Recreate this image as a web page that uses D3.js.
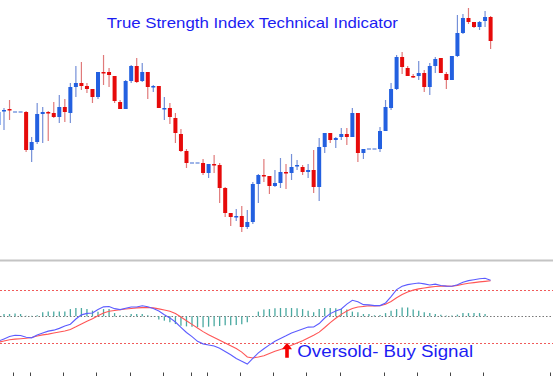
<!DOCTYPE html>
<html>
<head>
<meta charset="utf-8">
<script src="https://cdn.jsdelivr.net/npm/d3@7"></script>
<style>
  body { margin: 0; background: #fff; }
  svg { display: block; font-family: "Liberation Sans", Arial, sans-serif; }
</style>
</head>
<body>
<svg width="553" height="376"></svg>
<script>
// bar numbers start at -1, that one is cut by the left edge
const firstBar = -1;

const opens = [
    125, 139, 141, 138, 138, 138, 100, 108, 136, 138,
    137, 133, 143, 137, 163, 167, 164, 161, 153, 178,
    178, 174, 148, 141, 169, 184, 169, 178, 163, 164,
    141, 142, 132, 116, 99, 87, 87, 87, 77, 86,
    85, 62, 37, 33, 34, 23, 28, 66, 75, 74,
    64, 67, 78, 77, 84, 83, 78, 80, 63, 103,
    117, 110, 113, 116, 113, 137, 97, 101, 101, 101,
    119, 142, 161, 193, 182, 174, 174, 177, 163, 184,
    192, 176, 170, 194, 217, 232, 228, 223, 229, 233
];
const highs = [
    142, 142, 150, 138, 138, 139, 113, 147, 143, 139,
    148, 155, 151, 167, 184, 188, 167, 161, 178, 195,
    182, 174, 150, 170, 185, 192, 187, 178, 165, 164,
    153, 147, 137, 121, 101, 87, 87, 91, 86, 95,
    87, 63, 37, 41, 44, 40, 68, 76, 91, 74,
    80, 92, 86, 96, 90, 85, 86, 100, 112, 117,
    117, 113, 122, 122, 142, 137, 101, 101, 101, 123,
    150, 167, 195, 198, 184, 176, 189, 180, 187, 193,
    192, 178, 194, 235, 236, 242, 228, 229, 239, 234
];
const lows = [
    113, 120, 130, 138, 138, 98, 88, 106, 107, 109,
    132, 127, 128, 127, 153, 160, 157, 147, 151, 165,
    163, 147, 141, 141, 167, 167, 168, 151, 158, 142,
    130, 126, 107, 98, 82, 87, 87, 75, 72, 77,
    47, 33, 24, 29, 18, 21, 26, 47, 68, 56,
    63, 62, 61, 70, 80, 75, 72, 57, 49, 97,
    107, 102, 110, 105, 113, 88, 91, 101, 101, 98,
    119, 140, 160, 176, 174, 172, 170, 158, 155, 177,
    177, 161, 170, 193, 216, 226, 222, 220, 223, 201
];
const closes = [
    138, 140, 140, 138, 138, 100, 108, 136, 138, 137,
    133, 143, 138, 163, 167, 164, 161, 153, 178, 177,
    175, 149, 141, 169, 184, 168, 178, 163, 164, 142,
    142, 133, 117, 99, 87, 87, 87, 77, 86, 85,
    62, 37, 33, 34, 23, 28, 66, 75, 74, 64,
    67, 78, 77, 83, 85, 78, 80, 63, 103, 117,
    110, 112, 116, 113, 137, 97, 101, 101, 101, 119,
    143, 161, 193, 183, 174, 173, 177, 163, 184, 191,
    177, 170, 194, 217, 232, 228, 223, 228, 233, 209
];

// TSI line, its signal line and the histogram, one value per bar
const tsiValues = [
    -23.5, -21.4, -19.2, -17.9, -18.1, -19.9, -20.4, -17.7, -15.7, -14.0,
    -13.1, -11.4, -9.1, -7.5, -2.5, 1.4, 2.8, 3.2, 6.5, 9.0,
    9.4, 7.3, 6.4, 7.7, 8.9, 8.9, 10.0, 9.1, 7.5, 5.0,
    1.6, -1.5, -5.4, -10.4, -15.3, -19.2, -23.7, -26.1, -27.2, -28.2,
    -30.2, -33.3, -36.4, -40.0, -42.6, -45.3, -39.9, -34.6, -30.7, -27.1,
    -23.7, -21.1, -18.5, -15.7, -13.9, -12.0, -10.2, -10.1, -6.8, -1.6,
    2.6, 5.0, 7.0, 11.6, 15.3, 13.9, 11.1, 10.9, 10.2, 10.2,
    12.7, 18.8, 25.4, 28.5, 30.1, 31.0, 31.6, 30.8, 29.8, 30.6,
    29.2, 28.7, 28.5, 29.9, 32.3, 33.9, 34.7, 35.6, 36.2, 34.3
];
const signalValues = [
    -24.6, -23.4, -22.2, -21.6, -21.2, -20.8, -20.1, -18.7, -17.6, -16.9,
    -15.8, -14.9, -13.9, -12.4, -9.9, -7.2, -4.6, -2.3, 0.6, 3.2,
    4.9, 5.5, 6.2, 6.9, 7.4, 8.0, 8.3, 8.4, 8.0, 7.1,
    6.0, 4.8, 2.6, -0.6, -4.1, -7.6, -11.1, -14.5, -17.5, -20.0,
    -22.7, -25.3, -27.9, -30.6, -33.9, -38.5, -39.5, -38.6, -37.3, -35.3,
    -33.2, -31.4, -29.6, -27.4, -25.3, -23.1, -20.6, -18.0, -15.0, -10.6,
    -5.9, -1.8, 1.9, 5.0, 7.5, 8.8, 9.4, 10.0, 9.8, 10.0,
    11.5, 14.1, 17.6, 20.8, 23.2, 24.9, 26.1, 26.9, 27.7, 28.3,
    28.7, 28.7, 28.6, 29.4, 30.4, 31.4, 32.0, 32.7, 33.2, 33.8
];
const histValues = [
    1.9, 2.2, 2.2, 2.8, 2.2, 0.5, 0.5, 1.0, 3.8, 4.5,
    4.5, 4.5, 4.7, 6.9, 7.9, 7.9, 6.9, 5.4, 4.3, 6.9,
    6.9, 3.1, 1.0, 0.5, 2.2, 2.2, 2.2, 1.0, 0.3, -3.1,
    -4.1, -5.7, -7.3, -8.8, -9.5, -9.8, -10.2, -10.4, -9.8, -9.5,
    -9.2, -8.5, -8.5, -8.1, -7.6, -5.7, -0.5, 4.5, 6.4, 6.9,
    7.6, 7.9, 7.9, 7.9, 7.6, 6.9, 5.4, 3.8, 6.9, 7.9,
    7.9, 7.6, 6.9, 6.4, 4.5, 3.8, 2.2, 2.2, 1.0, 1.2,
    3.1, 5.4, 6.9, 8.5, 8.5, 6.4, 5.4, 3.8, 3.1, 2.2,
    1.6, 0.7, 0.7, 1.6, 3.1, 3.1, 3.1, 3.1, 2.2, 0
];

const tsiLevels = [25, 0, -25];
// time axis tick marks, in bar units
const timeTicks = [1.7, 4.7, 10.7, 16.7, 22.7, 28.7, 33.8, 36.7, 42.7, 48.7, 54.7, 60.7, 68.7, 74.7, 80.7, 86.7, 98.7];

const titleText = "True Strength Index Technical Indicator";
const noteText = "Oversold- Buy Signal";
const noteBar = 51;


const tsiChart = (function (svg) {
    const bars = opens.map(function (o, i) {
        return {
            bar: firstBar + i,
            open: o,
            high: highs[i],
            low: lows[i],
            close: closes[i],
            tsi: tsiValues[i],
            signal: signalValues[i],
            hist: histValues[i]
        };
    });

    const x = d3.scaleLinear().domain([0, 88]).range([4, 490.6]);
    const yPrice = d3.scaleLinear().domain([0, 240]).range([250, 10]);
    const yTsi = d3.scaleLinear().domain([-25, 25]).range([342.7, 290]);

    // title
    svg.append("text")
        .attr("transform", "translate(106.7,28.3) scale(1.2,1)")
        .attr("font-size", 14)
        .attr("fill", "#1c1cf2")
        .text(titleText);

    // candles
    const candle = svg.append("g").selectAll("g")
        .data(bars)
        .enter()
        .append("g");

    candle.append("line")
        .attr("x1", function (d) { return x(d.bar); })
        .attr("x2", function (d) { return x(d.bar); })
        .attr("y1", function (d) { return yPrice(d.high); })
        .attr("y2", function (d) { return yPrice(d.low); })
        .attr("stroke", function (d) {
            return d.close < d.open ? "#e07a7a" : "#7590d8";
        })
        .attr("stroke-width", 1.2);

    candle.filter(function (d) { return d.open !== d.close; })
        .append("rect")
        .attr("x", function (d) { return x(d.bar) - 2; })
        .attr("width", 4)
        .attr("y", function (d) { return yPrice(Math.max(d.open, d.close)); })
        .attr("height", function (d) {
            return Math.max(1.5, Math.abs(yPrice(d.open) - yPrice(d.close)));
        })
        .attr("fill", function (d) {
            return d.close < d.open ? "#e60a0a" : "#2360e0";
        });

    // doji bars are just a short dash
    candle.filter(function (d) { return d.open === d.close; })
        .append("line")
        .attr("x1", function (d) { return x(d.bar) - 2; })
        .attr("x2", function (d) { return x(d.bar) + 2; })
        .attr("y1", function (d) { return yPrice(d.open); })
        .attr("y2", function (d) { return yPrice(d.open); })
        .attr("stroke", "#7d9be0")
        .attr("stroke-width", 1.5);

    // indicator window
    svg.append("line")
        .attr("x1", 0).attr("x2", 553)
        .attr("y1", 260.5).attr("y2", 260.5)
        .attr("stroke", "#c4c4c4")
        .attr("stroke-width", 2);

    svg.append("g").selectAll("line")
        .data(tsiLevels)
        .enter()
        .append("line")
        .attr("x1", 0).attr("x2", 553)
        .attr("y1", function (d) { return Math.round(yTsi(d)) + 0.5; })
        .attr("y2", function (d) { return Math.round(yTsi(d)) + 0.5; })
        .attr("stroke", function (d) { return d === 0 ? "#777" : "#f05a5a"; })
        .attr("stroke-dasharray", function (d) { return d === 0 ? "1.5,2" : "2,2"; })
        .attr("stroke-width", 1);

    svg.append("g").selectAll("line")
        .data(bars.filter(function (d) { return d.hist !== 0; }))
        .enter()
        .append("line")
        .attr("x1", function (d) { return x(d.bar); })
        .attr("x2", function (d) { return x(d.bar); })
        .attr("y1", yTsi(0))
        .attr("y2", function (d) { return yTsi(d.hist); })
        .attr("stroke", "#4aa9a1")
        .attr("stroke-width", 1.3);

    const signalLine = d3.line()
        .x(function (d) { return x(d.bar); })
        .y(function (d) { return yTsi(d.signal); });
    const tsiLine = d3.line()
        .x(function (d) { return x(d.bar); })
        .y(function (d) { return yTsi(d.tsi); });

    svg.append("path")
        .attr("d", signalLine(bars))
        .attr("fill", "none")
        .attr("stroke", "#ff5656")
        .attr("stroke-width", 1.1);

    svg.append("path")
        .attr("d", tsiLine(bars))
        .attr("fill", "none")
        .attr("stroke", "#5c5cff")
        .attr("stroke-width", 1.1);

    // time ticks along the bottom
    svg.append("g").selectAll("line")
        .data(timeTicks)
        .enter()
        .append("line")
        .attr("x1", function (d) { return Math.round(x(d)) + 0.5; })
        .attr("x2", function (d) { return Math.round(x(d)) + 0.5; })
        .attr("y1", 372.5)
        .attr("y2", 376)
        .attr("stroke", "#444")
        .attr("stroke-width", 1);

    // oversold note with its red arrow
    const ax = x(noteBar) + 1;
    const ay = yTsi(-25);
    svg.append("path")
        .attr("d", "M0,0 L5,6.6 L1.8,6.6 L1.8,15 L-1.8,15 L-1.8,6.6 L-5,6.6 Z")
        .attr("transform", "translate(" + ax + "," + ay + ")")
        .attr("fill", "#f50000");

    svg.append("text")
        .attr("transform", "translate(" + (ax + 10.3) + ",356.7) scale(1.17,1)")
        .attr("font-size", 16)
        .attr("fill", "#1c1cf2")
        .text(noteText);

    return { bars: bars, x: x };
})(d3.select("svg"));
</script>
</body>
</html>
